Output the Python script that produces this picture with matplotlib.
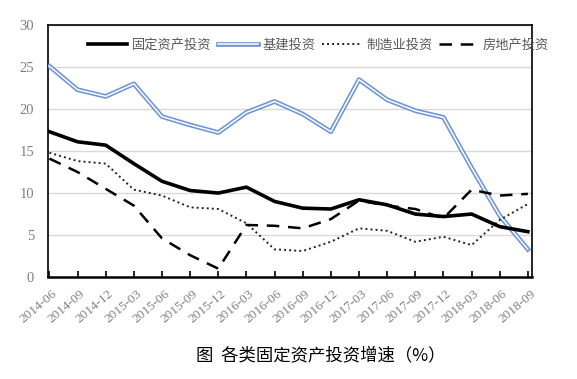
import numpy as np
import matplotlib
matplotlib.use("Agg")
import matplotlib.pyplot as plt
import matplotlib.patheffects as pe
import matplotlib.transforms as mtrans

plt.rcParams['font.family'] = ['Noto Sans CJK SC', 'DejaVu Sans']

quarters = ["2014-06", "2014-09", "2014-12", "2015-03", "2015-06", "2015-09",
            "2015-12", "2016-03", "2016-06", "2016-09", "2016-12", "2017-03",
            "2017-06", "2017-09", "2017-12", "2018-03", "2018-06", "2018-09"]

fai = [17.3, 16.1, 15.7, 13.5, 11.4, 10.3, 10.0, 10.7, 9.0, 8.2, 8.1, 9.2,
       8.6, 7.5, 7.2, 7.5, 6.0, 5.4]
infra = [25.1, 22.3, 21.5, 23.0, 19.1, 18.1, 17.2, 19.6, 20.9, 19.4, 17.3, 23.5,
         21.1, 19.8, 19.0, 13.0, 7.3, 3.3]
manuf = [14.8, 13.8, 13.5, 10.4, 9.7, 8.3, 8.1, 6.4, 3.3, 3.1, 4.2, 5.8,
         5.5, 4.2, 4.8, 3.8, 6.8, 8.7]
estate = [14.1, 12.5, 10.5, 8.5, 4.6, 2.6, 1.0, 6.2, 6.1, 5.8, 6.9, 9.1,
          8.5, 8.1, 7.0, 10.4, 9.7, 9.9]

labels = ["固定资产投资", "基建投资", "制造业投资", "房地产投资"]

fig = plt.figure(figsize=(5.77, 3.79), dpi=100)
ax = fig.add_axes([0.0832, 0.269, 0.839, 0.665])

x = np.arange(len(quarters))
ax.plot(x, fai, color="black", lw=2.6, label=labels[0], zorder=4)
ax.plot(x, infra, color="#6f95d6", lw=3.4, label=labels[1], zorder=3,
        path_effects=[pe.Stroke(linewidth=3.4, foreground="#6f95d6"),
                      pe.Stroke(linewidth=1.1, foreground="white")])
ax.plot(x, manuf, color="#222222", lw=1.4, ls=(0, (1, 1.6)), label=labels[2], zorder=3)
ax.plot(x, estate, color="black", lw=1.8, ls=(0, (5, 3.5)), label=labels[3], zorder=3)

ax.set_xlim(-0.05, 17.15)
ax.set_ylim(0, 30)
ax.set_yticks(range(0, 31, 5))
ax.yaxis.grid(True, color="#d9d9d9", lw=1)
ax.set_axisbelow(True)

for s in ax.spines.values():
    s.set_color("black")
    s.set_linewidth(1.2)
ax.spines["bottom"].set_linewidth(1.8)

ax.set_xticks(x)
ax.set_xticklabels(quarters, rotation=40, ha="right", va="center", rotation_mode="anchor",
                   family="Liberation Serif", fontsize=9.5, color="#808080")
ax.tick_params(axis="x", direction="in", length=4, width=1.2, color="black", pad=11)
shift = mtrans.ScaledTranslation(6 / 100, 0, fig.dpi_scale_trans)
for t in ax.get_xticklabels():
    t.set_transform(t.get_transform() + shift)
ax.tick_params(axis="y", length=0, pad=10, labelsize=10.5, labelcolor="#808080")
for t in ax.get_yticklabels():
    t.set_family("Liberation Serif")

fig.legend(loc="center", bbox_to_anchor=(0.552, 0.881), ncol=4, frameon=False,
           fontsize=9.5, labelcolor="#595959", handlelength=3.0,
           handletextpad=0.35, columnspacing=0.5)

fig.text(0.556, 0.063, "图  各类固定资产投资增速（%）", ha="center", va="center",
         fontsize=12.5, color="black")

fig.savefig("out.png", dpi=100)
